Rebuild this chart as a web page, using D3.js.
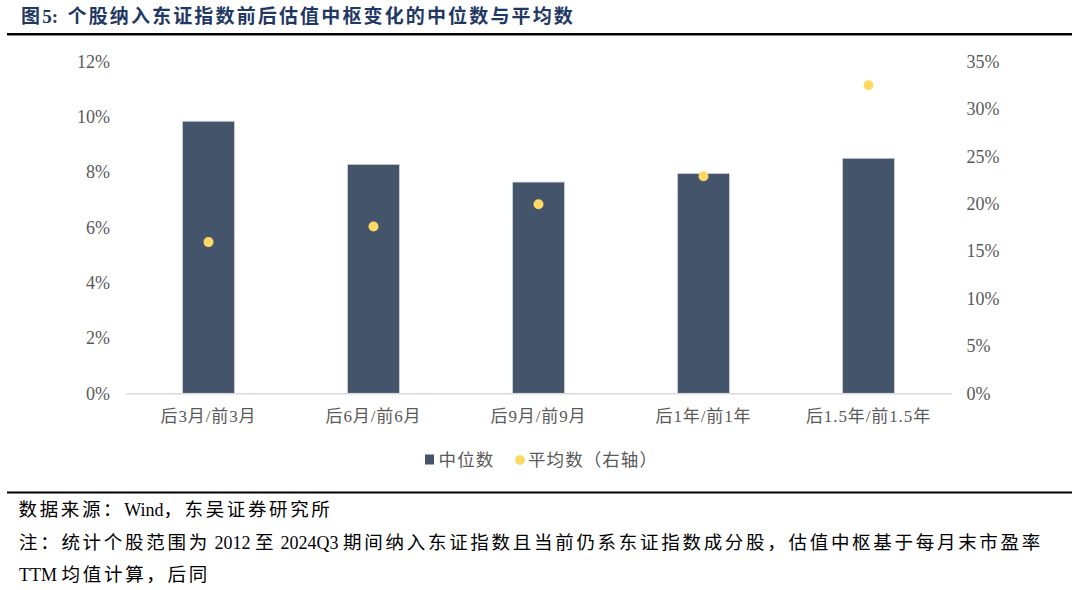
<!DOCTYPE html>
<html><head><meta charset="utf-8">
<script src="https://cdn.jsdelivr.net/npm/d3@7"></script>
<style>
body{margin:0;background:#fff;}
svg{display:block;}
</style></head>
<body><svg id="c" width="1080" height="590"></svg>
<script>
const categories = ["后3月/前3月","后6月/前6月","后9月/前9月","后1年/前1年","后1.5年/前1.5年"];
const medianValues = [9.84, 8.28, 7.64, 7.95, 8.50];
const meanValues = [15.95, 17.6, 19.95, 22.9, 32.5];
const leftTicks = [0,2,4,6,8,10,12];
const rightTicks = [0,5,10,15,20,25,30,35];
const seriesNames = ["中位数","平均数（右轴）"];
const titleText = "图5:  个股纳入东证指数前后估值中枢变化的中位数与平均数";
const sourceText = "数据来源：Wind，东吴证券研究所";
const noteLines = ["注：统计个股范围为 2012 至 2024Q3 期间纳入东证指数且当前仍系东证指数成分股，估值中枢基于每月末市盈率","TTM 均值计算，后同"];

const svg = d3.select("#c");
const serif = "'Liberation Serif','Times New Roman','Noto Sans CJK SC',serif";
const barColor = "#44546A", dotColor = "#FFD966", txt = "#595959";
const m = {left:126, right:951, top:61.5, bottom:393.3};

// text with CJK runs spaced (document-grid look), Latin runs unspaced
const cjkRe = /[\u3000-\u9fff\uff00-\uffef]+|[^\u3000-\u9fff\uff00-\uffef]+/g;
const isCJK = s => /[\u3000-\u9fff\uff00-\uffef]/.test(s);
function gridText(g, str, x, y, target, cjkSize, latinSize){
  const t = g.append("text").attr("x",x).attr("y",y).attr("xml:space","preserve");
  const runs = str.match(cjkRe);
  let n = 0;
  const spans = runs.map(r=>{
    const c = isCJK(r);
    if(c) n += r.length;
    return {c, s: t.append("tspan").attr("font-size", c?cjkSize:latinSize).text(r)};
  });
  const natural = t.node().getComputedTextLength();
  const ls = Math.max(0,(target - natural)/n);
  spans.forEach(o=>{ if(o.c) o.s.attr("letter-spacing", ls+"px"); });
  return t;
}

// title
const tg = svg.append("g").attr("font-family",serif).attr("font-weight","bold").attr("fill","#1F3864");
gridText(tg, titleText, 21, 23, 554, 19, 19);
svg.append("line").attr("x1",7).attr("x2",1072).attr("y1",34.3).attr("y2",34.3)
  .attr("stroke","#000").attr("stroke-width",2.5);

const x = d3.scaleBand().domain(categories).range([m.left,m.right]).paddingInner(0.685).paddingOuter(0.3425);
const yL = d3.scaleLinear().domain([0,12]).range([m.bottom,m.top]);
const yR = d3.scaleLinear().domain([0,35]).range([m.bottom,m.top]);

// bars
svg.append("g").selectAll("rect").data(medianValues).join("rect")
  .attr("x",(d,i)=>x(categories[i])).attr("width",x.bandwidth())
  .attr("y",d=>yL(d)).attr("height",d=>yL(0)-yL(d))
  .attr("fill",barColor).attr("stroke","#D0D4DA").attr("stroke-width",0.8);

// x axis
const xa = svg.append("g").attr("transform",`translate(0,${m.bottom})`).call(d3.axisBottom(x).tickSize(0).tickPadding(17));
xa.select(".domain").attr("stroke","#D9D9D9").attr("stroke-width",1.5);
xa.selectAll("text").attr("font-family",serif).attr("font-size",17).attr("letter-spacing","0.9px").attr("fill",txt);

// left axis
const la = svg.append("g").attr("transform",`translate(110,0)`).call(d3.axisLeft(yL).tickValues(leftTicks).tickSize(0).tickPadding(0).tickFormat(d=>d+"%"));
la.select(".domain").remove();
la.selectAll("text").attr("font-family",serif).attr("font-size",18).attr("fill",txt);

// right axis
const ra = svg.append("g").attr("transform",`translate(966.5,0)`).call(d3.axisRight(yR).tickValues(rightTicks).tickSize(0).tickPadding(0).tickFormat(d=>d+"%"));
ra.select(".domain").remove();
ra.selectAll("text").attr("font-family",serif).attr("font-size",18).attr("fill",txt);

// dots
svg.append("g").selectAll("circle").data(meanValues).join("circle")
  .attr("cx",(d,i)=>x(categories[i])+x.bandwidth()/2).attr("cy",d=>yR(d))
  .attr("r",5).attr("fill",dotColor);

// legend
const lg = svg.append("g").attr("font-family",serif).attr("fill",txt);
lg.append("rect").attr("x",425).attr("y",454.5).attr("width",9).attr("height",10).attr("fill",barColor);
gridText(lg, seriesNames[0], 438.5, 466, 56, 17.5, 17.5);
lg.append("circle").attr("cx",520).attr("cy",460).attr("r",5).attr("fill",dotColor);
gridText(lg, seriesNames[1], 528, 466, 130, 17.5, 17.5);

// footer
svg.append("line").attr("x1",7).attr("x2",1072).attr("y1",492.5).attr("y2",492.5)
  .attr("stroke","#000").attr("stroke-width",2);
const ft = svg.append("g").attr("font-family",serif).attr("fill","#000");
gridText(ft, sourceText, 18.5, 516, 314, 18.5, 18);
gridText(ft, noteLines[0], 19, 548.5, 1024, 18.5, 18);
gridText(ft, noteLines[1], 19, 581, 191, 18.5, 18);
</script></body></html>
